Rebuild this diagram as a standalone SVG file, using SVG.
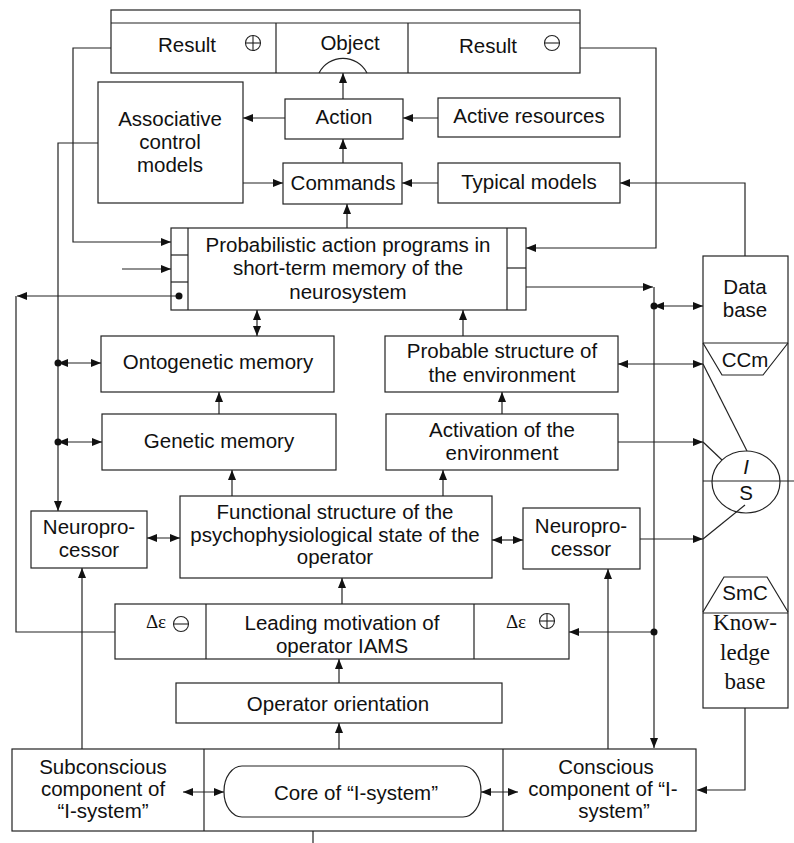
<svg xmlns="http://www.w3.org/2000/svg" width="794" height="843" viewBox="0 0 794 843">
<defs>
<style>
.b{fill:#fff;stroke:#222;stroke-width:1.2}
.n{fill:none;stroke:#222;stroke-width:1.2}
.c{fill:none;stroke:#222;stroke-width:1.1}
.t{font-family:"Liberation Sans",Arial,sans-serif;font-size:20.5px;fill:#111;text-anchor:middle}
.s{font-family:"Liberation Serif","Times New Roman",serif;font-size:23px;fill:#111;text-anchor:middle}
.d{font-family:"Liberation Serif","Times New Roman",serif;font-size:19px;fill:#111;text-anchor:middle}
.dot{fill:#111}
</style>
<marker id="a" viewBox="0 0 10 8" refX="10" refY="4" markerWidth="10" markerHeight="8" orient="auto-start-reverse" markerUnits="userSpaceOnUse"><path d="M0,0 L10,4 L0,8 z" fill="#111"/></marker>
</defs>
<rect width="794" height="843" fill="#fff"/>

<g id="top-box">
<rect class="b" x="111" y="10" width="469" height="63"/>
<line class="n" x1="111" y1="23" x2="580" y2="23"/>
<line class="n" x1="276" y1="23" x2="276" y2="73"/>
<line class="n" x1="408" y1="23" x2="408" y2="73"/>
<text class="t" x="187" y="52">Result</text>
<circle class="c" cx="253" cy="43" r="7.5"/>
<line class="c" x1="245.5" y1="43" x2="260.5" y2="43"/><line class="c" x1="253" y1="35.5" x2="253" y2="50.5"/>
<text class="t" x="350" y="50">Object</text>
<path class="n" d="M319,73 A27,27 0 0 1 367,73"/>
<text class="t" x="488" y="53">Result</text>
<circle class="c" cx="552" cy="43" r="7.5"/>
<line class="c" x1="544.5" y1="43" x2="559.5" y2="43"/>
</g>

<g id="action"><rect class="b" x="285" y="99" width="118" height="40"/><text class="t" x="344" y="124">Action</text></g>
<g id="associative"><rect class="b" x="98" y="82" width="145" height="121"/>
<text class="t" x="170" y="126">Associative</text><text class="t" x="170" y="149">control</text><text class="t" x="170" y="172">models</text></g>
<g id="commands"><rect class="b" x="283" y="163" width="119" height="41"/><text class="t" x="343" y="190">Commands</text></g>
<g id="active"><rect class="b" x="438" y="98" width="182" height="39"/><text class="t" x="529" y="123">Active resources</text></g>
<g id="typical"><rect class="b" x="438" y="163" width="182" height="40"/><text class="t" x="529" y="189">Typical models</text></g>

<g id="probabilistic">
<rect class="b" x="171" y="228" width="355" height="82"/>
<line class="n" x1="188" y1="228" x2="188" y2="310"/>
<line class="n" x1="171" y1="255" x2="188" y2="255"/>
<line class="n" x1="171" y1="282" x2="188" y2="282"/>
<line class="n" x1="507" y1="228" x2="507" y2="310"/>
<line class="n" x1="507" y1="268" x2="526" y2="268"/>
<text class="t" x="348" y="252">Probabilistic action programs in</text>
<text class="t" x="348" y="275">short-term memory of the</text>
<text class="t" x="348" y="299">neurosystem</text>
</g>

<g id="database">
<rect class="b" x="703" y="256" width="85" height="452"/>
<line class="n" x1="703" y1="343" x2="788" y2="343"/>
<text class="t" x="745" y="294">Data</text><text class="t" x="745" y="317">base</text>
<path class="n" d="M703,343 L722,375 L763,375 L788,343"/>
<text class="t" x="745" y="367">CCm</text>
<path class="n" d="M703,612 L724,577 L767,577 L788,612"/>
<line class="n" x1="703" y1="613" x2="788" y2="613"/>
<text class="t" x="745" y="600">SmC</text>
<text class="s" x="745" y="630">Know-</text>
<text class="s" x="745" y="660">ledge</text>
<text class="s" x="745" y="689">base</text>
</g>

<g id="is-circle">
<ellipse class="n" cx="746" cy="482" rx="34" ry="31"/>
<line class="n" x1="703" y1="481" x2="794" y2="481"/>
<text class="t" x="746" y="474" font-style="italic">I</text>
<text class="t" x="746" y="500">S</text>
</g>

<g id="ontogenetic"><rect class="b" x="101" y="336" width="233" height="56"/><text class="t" x="218" y="369">Ontogenetic memory</text></g>
<g id="genetic"><rect class="b" x="102" y="414" width="234" height="56"/><text class="t" x="219" y="448">Genetic memory</text></g>
<g id="probable"><rect class="b" x="385" y="336" width="233" height="56"/>
<text class="t" x="502" y="358">Probable structure of</text><text class="t" x="502" y="382">the environment</text></g>
<g id="activation"><rect class="b" x="386" y="414" width="232" height="56"/>
<text class="t" x="502" y="437">Activation of the</text><text class="t" x="502" y="460">environment</text></g>

<g id="functional"><rect class="b" x="180" y="496" width="312" height="82"/>
<text class="t" x="335" y="519">Functional structure of the</text>
<text class="t" x="335" y="542">psychophysiological state of the</text>
<text class="t" x="335" y="564">operator</text></g>
<g id="neuro-left"><rect class="b" x="31" y="511" width="116" height="57"/>
<text class="t" x="89" y="534">Neuropro-</text><text class="t" x="89" y="557">cessor</text></g>
<g id="neuro-right"><rect class="b" x="523" y="508" width="117" height="61"/>
<text class="t" x="581" y="533">Neuropro-</text><text class="t" x="581" y="556">cessor</text></g>

<g id="leading">
<rect class="b" x="115" y="604" width="454" height="55"/>
<line class="n" x1="206" y1="604" x2="206" y2="659"/>
<line class="n" x1="474" y1="604" x2="474" y2="659"/>
<text class="t" x="342" y="630">Leading motivation of</text>
<text class="t" x="342" y="653">operator IAMS</text>
<text class="d" x="156" y="628">Δε</text>
<circle class="c" cx="181" cy="624" r="7.5"/><line class="c" x1="173.5" y1="624" x2="188.5" y2="624"/>
<text class="d" x="516" y="628">Δε</text>
<circle class="c" cx="547" cy="621" r="7.5"/><line class="c" x1="539.5" y1="621" x2="554.5" y2="621"/><line class="c" x1="547" y1="613.5" x2="547" y2="628.5"/>
</g>

<g id="orientation"><rect class="b" x="176" y="683" width="326" height="40"/><text class="t" x="338" y="711">Operator orientation</text></g>

<g id="bottom">
<rect class="b" x="12" y="749" width="684" height="82"/>
<line class="n" x1="204" y1="749" x2="204" y2="831"/>
<line class="n" x1="503" y1="749" x2="503" y2="831"/>
<text class="t" x="103" y="774">Subconscious</text>
<text class="t" x="103" y="796">component of</text>
<text class="t" x="103" y="818">“I-system”</text>
<rect class="b" x="224" y="766" width="257" height="51" rx="18" ry="25"/>
<text class="t" x="356" y="800">Core of “I-system”</text>
<text class="t" x="606" y="774">Conscious</text>
<text class="t" x="603" y="796">component of “I-</text>
<text class="t" x="614" y="818">system”</text>
</g>

<g id="connectors">
<path class="n" d="M111,48 H73 V242 H171" marker-end="url(#a)"/>
<path class="n" d="M580,48 H656 V248 H526" marker-end="url(#a)"/>
<path class="n" d="M343,99 V73" marker-end="url(#a)"/>
<path class="n" d="M285,118 H243" marker-end="url(#a)"/>
<path class="n" d="M438,118 H403" marker-end="url(#a)"/>
<path class="n" d="M343,163 V139" marker-end="url(#a)"/>
<path class="n" d="M243,183 H283" marker-end="url(#a)"/>
<path class="n" d="M438,183 H402" marker-end="url(#a)"/>
<path class="n" d="M745,256 V183 H620" marker-end="url(#a)"/>
<path class="n" d="M347,228 V204" marker-end="url(#a)"/>
<path class="n" d="M98,143 H58 V511" marker-end="url(#a)"/>
<path class="n" d="M58,363 H101" marker-start="url(#a)" marker-end="url(#a)"/>
<circle class="dot" cx="58" cy="363" r="3.5"/>
<path class="n" d="M58,442 H102" marker-start="url(#a)" marker-end="url(#a)"/>
<circle class="dot" cx="58" cy="442" r="3.5"/>
<path class="n" d="M122,269 H171" marker-end="url(#a)"/>
<path class="n" d="M179,296 H17" marker-end="url(#a)"/>
<circle class="dot" cx="179" cy="296" r="3.5"/>
<path class="n" d="M16,296 V632 H115"/>
<path class="n" d="M526,287 H653" marker-end="url(#a)"/>
<path class="n" d="M654,287 V748" marker-end="url(#a)"/>
<path class="n" d="M654,306 H703" marker-start="url(#a)" marker-end="url(#a)"/>
<circle class="dot" cx="654" cy="306" r="3.5"/>
<path class="n" d="M654,632 H569" marker-end="url(#a)"/>
<circle class="dot" cx="654" cy="632" r="3.5"/>
<path class="n" d="M257,310 V336" marker-start="url(#a)" marker-end="url(#a)"/>
<path class="n" d="M463,336 V310" marker-end="url(#a)"/>
<path class="n" d="M219,414 V392" marker-end="url(#a)"/>
<path class="n" d="M502,414 V392" marker-end="url(#a)"/>
<path class="n" d="M232,496 V470" marker-end="url(#a)"/>
<path class="n" d="M443,496 V470" marker-end="url(#a)"/>
<path class="n" d="M147,538 H180" marker-start="url(#a)" marker-end="url(#a)"/>
<path class="n" d="M492,540 H523" marker-start="url(#a)" marker-end="url(#a)"/>
<path class="n" d="M618,364 H703" marker-start="url(#a)" marker-end="url(#a)"/>
<path class="n" d="M703,364 L747,451"/>
<path class="n" d="M618,442 H703" marker-end="url(#a)"/>
<path class="n" d="M703,442 L722,460"/>
<path class="n" d="M640,539 H703" marker-end="url(#a)"/>
<path class="n" d="M703,539 L745,505"/>
<path class="n" d="M82,749 V568" marker-end="url(#a)"/>
<path class="n" d="M608,749 V569" marker-end="url(#a)"/>
<path class="n" d="M342,604 V578" marker-end="url(#a)"/>
<path class="n" d="M339,683 V659" marker-end="url(#a)"/>
<path class="n" d="M339,749 V723" marker-end="url(#a)"/>
<path class="n" d="M183,792 H224" marker-start="url(#a)" marker-end="url(#a)"/>
<path class="n" d="M481,792 H518" marker-start="url(#a)" marker-end="url(#a)"/>
<path class="n" d="M745,708 V790 H697" marker-end="url(#a)"/>
<path class="n" d="M313,831 V843"/>
</g>
</svg>
